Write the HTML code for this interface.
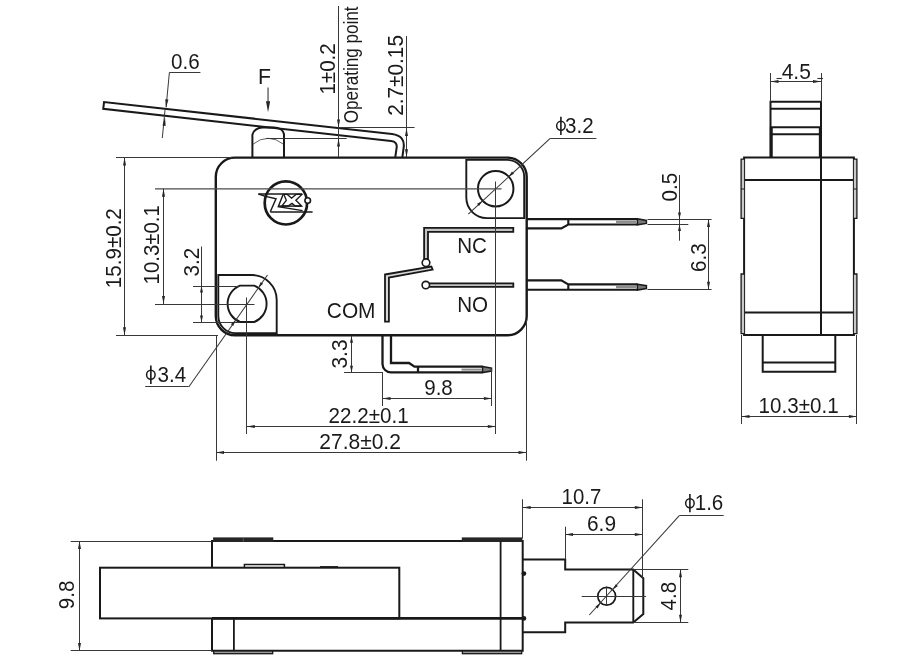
<!DOCTYPE html>
<html><head><meta charset="utf-8"><title>Micro switch dimensions</title>
<style>
html,body{margin:0;padding:0;background:#fff;}
body{width:901px;height:672px;overflow:hidden;}
svg{display:block;}
text{font-family:"Liberation Sans",sans-serif;fill:#1a1a1a;}
svg{will-change:transform;filter:grayscale(1);}
</style></head><body>
<svg width="901" height="672" viewBox="0 0 901 672">
<rect width="901" height="672" fill="#fff"/>
<path d="M235,157.6 H507.5 A19.2,19.2 0 0 1 526.7,176.8 V316 A19.2,19.2 0 0 1 507.5,335.3 H235 A19.2,19.2 0 0 1 215.8,316 V176.8 A19.2,19.2 0 0 1 235,157.6 Z" stroke="#1c1917" stroke-width="2.4" fill="none" />
<path d="M466.3,159.9 V197.6 A20.5,20.5 0 0 0 486.8,218.1 H524.2 V177 A17,17 0 0 0 507.2,159.9 Z" stroke="#1c1917" stroke-width="1.9" fill="none" />
<circle cx="495.7" cy="188.7" r="17.75" stroke="#1c1917" stroke-width="2.0" fill="none"/>
<path d="M218.3,275 H251.7 A25,25 0 0 1 276.7,300 V333.1 H235.5 A17.2,17.2 0 0 1 218.3,316 Z" stroke="#1c1917" stroke-width="1.9" fill="none" />
<path d="M240.10,285.6 H254.10 A19.5,19.5 0 0 1 254.10,322.0 H240.10 A19.5,19.5 0 0 1 240.10,285.6 Z" stroke="#1c1917" stroke-width="1.9" fill="none" />
<path d="M252.4,157.7 V134.6 C253.2,130.6 257.5,127.7 262.5,127.6 H274 C279,127.7 283.2,130.2 284,134.2 V157.7" stroke="#1c1917" stroke-width="2.0" fill="none" />
<path d="M253,144.2 Q260,138.3 268.3,138.3 Q276,138.3 283.4,144.2" stroke="#383838" stroke-width="0.8" fill="none" />
<path d="M395.2,157.7 L396.6,148 Q397.6,141.8 391,141.0 L103.25,108.8 L104.05,102.1 L392,133.9 Q405.5,135.6 403.6,148 L402.3,157.7" stroke="#1c1917" stroke-width="2.0" fill="none" stroke-linejoin="miter"/>
<ellipse cx="285.9" cy="202.9" rx="21.2" ry="21.6" stroke="#1c1917" stroke-width="2.7" fill="none"/>
<g stroke="#1c1917" stroke-width="1.45" fill="none" stroke-linejoin="miter">
<path d="M258.3,193.9 H301.9" stroke-width="1.5"/>
<path d="M270.3,211.9 H312.6" stroke-width="1.5"/>
<path d="M258.5,194 L264.7,196.1 L276,198.7 L270.3,211.8" />
<path d="M283.3,193.9 L278.3,206.6 L302.6,210.6" />
<path d="M278.3,206.1 H301.6" />
<path d="M283.9,194.4 L287.3,194.4 L291.6,198.2 L295.9,194.4 L301.9,194.4 L295.9,200.3 L301.6,206 L295.3,206 L292,203.4 L288,206 L281.8,206 L286.3,200.3 Z" stroke-width="1.35"/>
</g>
<circle cx="307.7" cy="200.5" r="2.8" stroke="#1c1917" stroke-width="1.6" fill="#fff"/>
<path d="M424.1,227.8 H513.3 V231.8 H428.0 V259.5 H424.1 Z" stroke="#1c1917" stroke-width="1.8" fill="#c4c4c4" />
<path d="M429,283.3 H513.3 V286.8 H429 Z" stroke="#1c1917" stroke-width="1.8" fill="#c4c4c4" />
<path d="M385.0,274.5 L431.4,266.6 L432.6,269.6 L388.9,277.5 V321.6 H385.0 Z" stroke="#1c1917" stroke-width="1.8" fill="#d8d8d8" />
<circle cx="426" cy="262.7" r="3.8" stroke="#1c1917" stroke-width="1.6" fill="#fff"/>
<circle cx="425.8" cy="285.05" r="3.7" stroke="#1c1917" stroke-width="1.6" fill="#fff"/>
<text transform="translate(457.2 253.2) scale(1 1.06)" font-size="20.6" text-anchor="start" >NC</text>
<text transform="translate(457.2 312.2) scale(1 1.06)" font-size="20.6" text-anchor="start" >NO</text>
<text transform="translate(326.8 318.2) scale(1 1.06)" font-size="20.9" text-anchor="start" >COM</text>
<path d="M526.3,219.1 H637.7 M526.3,228.4 H561.3 L568.3,224.5 H637.7 M568.3,219.1 V224.5" stroke="#1c1917" stroke-width="2.1" fill="none" />
<path d="M637.4,218.8 L646.4,220.4 V223.4 L637.4,224.8 Z" stroke="#1c1917" stroke-width="1.5" fill="#777" />
<line x1="616" y1="221.8" x2="636.5" y2="221.8" stroke="#8c8c8c" stroke-width="2.3"/>
<path d="M526.3,289.7 H637.7 M526.3,280.4 H561.3 L568.3,284.4 H637.7 M568.3,284.4 V289.7" stroke="#1c1917" stroke-width="2.1" fill="none" />
<path d="M637.4,284.2 L646.4,285.7 V288.6 L637.4,290 Z" stroke="#1c1917" stroke-width="1.5" fill="#777" />
<line x1="616" y1="287.1" x2="636.5" y2="287.1" stroke="#8c8c8c" stroke-width="2.3"/>
<path d="M382.5,335.2 V364 A8.5,8.5 0 0 0 391,372.4 H482.5 M391,335.2 V363 H409 L414.5,366.7 H482.5 M418,366.7 V372.4" stroke="#1c1917" stroke-width="2.3" fill="none" />
<path d="M482.5,366.5 L491.5,368.1 V371.1 L482.5,372.6 Z" stroke="#1c1917" stroke-width="1.5" fill="#777" />
<line x1="461.5" y1="369.6" x2="481.6" y2="369.6" stroke="#8c8c8c" stroke-width="2.0"/>
<text transform="translate(171.1 68.9) scale(1 1.06)" font-size="20.6" text-anchor="start" >0.6</text>
<line x1="169.4" y1="72.5" x2="200.4" y2="72.5" stroke="#383838" stroke-width="1.0"/>
<line x1="169.4" y1="72.4" x2="166.1" y2="107" stroke="#383838" stroke-width="1.0"/>
<polygon points="166.00,108.00 165.22,99.29 168.41,99.59" fill="#262626"/>
<line x1="162.3" y1="138" x2="165.0" y2="110" stroke="#383838" stroke-width="1.0"/>
<polygon points="165.00,117.20 165.65,125.92 162.47,125.57" fill="#262626"/>
<text transform="translate(258.1 83.7) scale(1 1.06)" font-size="21.3" text-anchor="start" >F</text>
<line x1="268.05" y1="87.4" x2="268.05" y2="103" stroke="#555" stroke-width="1.3"/>
<polygon points="268.05,112.20 265.95,101.20 270.15,101.20" fill="#262626"/>
<line x1="338.5" y1="6" x2="338.5" y2="157" stroke="#383838" stroke-width="1.0"/>
<polygon points="338.50,127.40 337.00,119.40 340.00,119.40" fill="#262626"/>
<polygon points="338.50,138.60 340.00,146.60 337.00,146.60" fill="#262626"/>
<line x1="266" y1="138.5" x2="346.7" y2="138.5" stroke="#383838" stroke-width="1.0"/>
<line x1="338.6" y1="127.5" x2="414.6" y2="127.5" stroke="#383838" stroke-width="1.0"/>
<text transform="translate(335.0 94.6) rotate(-90) scale(1 1.06)" font-size="20.6" text-anchor="start" >1±0.2</text>
<text transform="translate(358.2 123.2) rotate(-90)" font-size="20.4" text-anchor="start" textLength="116.8" lengthAdjust="spacingAndGlyphs">Operating point</text>
<line x1="406.5" y1="36" x2="406.5" y2="157" stroke="#383838" stroke-width="1.0"/>
<polygon points="406.50,128.00 408.00,136.00 405.00,136.00" fill="#262626"/>
<polygon points="406.50,157.20 405.00,149.20 408.00,149.20" fill="#262626"/>
<text transform="translate(402.6 115.8) rotate(-90) scale(1 1.06)" font-size="20.8" text-anchor="start" >2.7±0.15</text>
<ellipse cx="560.9" cy="125.85" rx="4.25" ry="4.5" stroke="#1a1a1a" stroke-width="1.5" fill="none"/>
<line x1="560.9" y1="116.64999999999999" x2="560.9" y2="134.95" stroke="#1a1a1a" stroke-width="1.6"/>
<text transform="translate(565.0 133.3) scale(1 1.06)" font-size="20.6" text-anchor="start" >3.2</text>
<line x1="550.2" y1="138.5" x2="596.4" y2="138.5" stroke="#383838" stroke-width="1.0"/>
<line x1="550.2" y1="138.4" x2="468.3" y2="214.2" stroke="#383838" stroke-width="1.05"/>
<polygon points="508.70,176.50 511.98,171.50 513.95,173.63" fill="#262626"/>
<polygon points="482.30,200.90 479.02,205.90 477.05,203.77" fill="#262626"/>
<line x1="155" y1="188.85" x2="501.5" y2="188.85" stroke="#4a4a4a" stroke-width="1.1"/>
<line x1="495.5" y1="181.5" x2="495.5" y2="434" stroke="#383838" stroke-width="1.0"/>
<line x1="155" y1="304.5" x2="254.5" y2="304.5" stroke="#383838" stroke-width="1.0"/>
<line x1="246.5" y1="297.5" x2="246.5" y2="434" stroke="#383838" stroke-width="1.0"/>
<line x1="116" y1="157.5" x2="232" y2="157.5" stroke="#383838" stroke-width="1.0"/>
<line x1="116" y1="335.5" x2="218" y2="335.5" stroke="#383838" stroke-width="1.0"/>
<line x1="124.5" y1="157.5" x2="124.5" y2="335.3" stroke="#383838" stroke-width="1.0"/>
<polygon points="124.50,157.50 126.00,165.50 123.00,165.50" fill="#262626"/>
<polygon points="124.50,335.30 123.00,327.30 126.00,327.30" fill="#262626"/>
<text transform="translate(121.3 288.2) rotate(-90) scale(1 1.06)" font-size="20.6" text-anchor="start" >15.9±0.2</text>
<line x1="163.5" y1="188.7" x2="163.5" y2="304" stroke="#383838" stroke-width="1.0"/>
<polygon points="163.50,188.70 165.00,196.70 162.00,196.70" fill="#262626"/>
<polygon points="163.50,304.00 162.00,296.00 165.00,296.00" fill="#262626"/>
<text transform="translate(159.3 284.4) rotate(-90) scale(1 1.06)" font-size="20.4" text-anchor="start" >10.3±0.1</text>
<line x1="193" y1="286.5" x2="240" y2="286.5" stroke="#383838" stroke-width="1.0"/>
<line x1="193" y1="322.5" x2="240" y2="322.5" stroke="#383838" stroke-width="1.0"/>
<line x1="201.5" y1="246.5" x2="201.5" y2="322" stroke="#383838" stroke-width="1.0"/>
<polygon points="201.50,286.00 203.00,292.50 200.00,292.50" fill="#262626"/>
<polygon points="201.50,322.00 200.00,315.50 203.00,315.50" fill="#262626"/>
<text transform="translate(198.5 276.4) rotate(-90) scale(1 1.06)" font-size="20.6" text-anchor="start" >3.2</text>
<ellipse cx="150.85" cy="374.8" rx="4.25" ry="4.5" stroke="#1a1a1a" stroke-width="1.5" fill="none"/>
<line x1="150.85" y1="365.6" x2="150.85" y2="383.90000000000003" stroke="#1a1a1a" stroke-width="1.6"/>
<text transform="translate(157.5 381.6) scale(1 1.06)" font-size="20.6" text-anchor="start" >3.4</text>
<line x1="145.2" y1="386.5" x2="188.7" y2="386.5" stroke="#383838" stroke-width="1.0"/>
<line x1="188.7" y1="387.0" x2="267.5" y2="275" stroke="#383838" stroke-width="1.05"/>
<polygon points="258.30,288.00 260.69,282.10 263.06,283.77" fill="#262626"/>
<polygon points="235.60,320.00 233.21,325.90 230.84,324.23" fill="#262626"/>
<line x1="344" y1="372.5" x2="383" y2="372.5" stroke="#383838" stroke-width="1.0"/>
<line x1="351.5" y1="336" x2="351.5" y2="372.4" stroke="#383838" stroke-width="1.0"/>
<polygon points="351.50,336.30 353.00,342.80 350.00,342.80" fill="#262626"/>
<polygon points="351.50,372.20 350.00,365.70 353.00,365.70" fill="#262626"/>
<text transform="translate(346.6 368.6) rotate(-90) scale(1 1.06)" font-size="21.0" text-anchor="start" >3.3</text>
<line x1="382.5" y1="372" x2="382.5" y2="406" stroke="#383838" stroke-width="1.0"/>
<line x1="491.5" y1="368.5" x2="491.5" y2="406" stroke="#383838" stroke-width="1.0"/>
<line x1="382.5" y1="398.5" x2="491.9" y2="398.5" stroke="#383838" stroke-width="1.0"/>
<polygon points="382.50,398.50 390.50,397.00 390.50,400.00" fill="#262626"/>
<polygon points="491.90,398.50 483.90,400.00 483.90,397.00" fill="#262626"/>
<text transform="translate(424.2 394.6) scale(1 1.06)" font-size="20.6" text-anchor="start" >9.8</text>
<line x1="246.8" y1="426.5" x2="495.8" y2="426.5" stroke="#383838" stroke-width="1.0"/>
<polygon points="246.80,426.50 254.80,425.00 254.80,428.00" fill="#262626"/>
<polygon points="495.80,426.50 487.80,428.00 487.80,425.00" fill="#262626"/>
<text transform="translate(328.6 422.9) scale(1 1.06)" font-size="20.6" text-anchor="start" >22.2±0.1</text>
<line x1="216.5" y1="335" x2="216.5" y2="460.7" stroke="#383838" stroke-width="1.0"/>
<line x1="526.5" y1="320" x2="526.5" y2="460.7" stroke="#383838" stroke-width="1.0"/>
<line x1="216" y1="452.5" x2="526.5" y2="452.5" stroke="#383838" stroke-width="1.0"/>
<polygon points="216.00,452.50 224.00,451.00 224.00,454.00" fill="#262626"/>
<polygon points="526.50,452.50 518.50,454.00 518.50,451.00" fill="#262626"/>
<text transform="translate(319.3 448.8) scale(1 1.06)" font-size="21.0" text-anchor="start" >27.8±0.2</text>
<line x1="647.5" y1="224.5" x2="688.3" y2="224.5" stroke="#383838" stroke-width="1.0"/>
<line x1="679.5" y1="175" x2="679.5" y2="240.7" stroke="#383838" stroke-width="1.0"/>
<polygon points="679.50,219.10 678.00,212.60 681.00,212.60" fill="#262626"/>
<polygon points="679.50,224.50 681.00,231.00 678.00,231.00" fill="#262626"/>
<text transform="translate(677.2 201.5) rotate(-90) scale(1 1.06)" font-size="20.6" text-anchor="start" >0.5</text>
<line x1="647.5" y1="219.5" x2="711.6" y2="219.5" stroke="#383838" stroke-width="1.0"/>
<line x1="647.5" y1="289.5" x2="711.6" y2="289.5" stroke="#383838" stroke-width="1.0"/>
<line x1="708.5" y1="219.1" x2="708.5" y2="289.7" stroke="#383838" stroke-width="1.0"/>
<polygon points="708.50,219.10 710.00,227.10 707.00,227.10" fill="#262626"/>
<polygon points="708.50,289.70 707.00,281.70 710.00,281.70" fill="#262626"/>
<text transform="translate(705.5 272) rotate(-90) scale(1 1.06)" font-size="20.6" text-anchor="start" >6.3</text>
<path d="M744.1,157.5 H853.9 V335.1 H744.1 Z" stroke="#1c1917" stroke-width="2.0" fill="none" />
<line x1="744.1" y1="179.9" x2="853.9" y2="179.9" stroke="#1c1917" stroke-width="2.0"/>
<line x1="744.1" y1="312.5" x2="853.9" y2="312.5" stroke="#1c1917" stroke-width="2.0"/>
<line x1="821.0" y1="101.8" x2="821.0" y2="335.1" stroke="#1c1917" stroke-width="2.0"/>
<path d="M770.5,157.4 V101.8 H821.0" stroke="#1c1917" stroke-width="2.0" fill="none" />
<line x1="770.5" y1="108.8" x2="821" y2="108.8" stroke="#1c1917" stroke-width="2.0"/>
<line x1="770.5" y1="127.2" x2="821" y2="127.2" stroke="#1c1917" stroke-width="2.0"/>
<line x1="770.5" y1="134.2" x2="821" y2="134.2" stroke="#1c1917" stroke-width="2.0"/>
<line x1="771.3" y1="127.2" x2="771.3" y2="157.4" stroke="#1c1917" stroke-width="2.9"/>
<line x1="820.3" y1="127.2" x2="820.3" y2="157.4" stroke="#1c1917" stroke-width="2.9"/>
<path d="M744.1,159.2 H741.1 V218.4 H744.1" stroke="#1c1917" stroke-width="1.3" fill="#c8c8c8" />
<path d="M853.9,159.2 H856.9 V218.4 H853.9" stroke="#1c1917" stroke-width="1.3" fill="#c8c8c8" />
<path d="M744.1,274 H741.1 V333.6 H744.1" stroke="#1c1917" stroke-width="1.3" fill="#c8c8c8" />
<path d="M853.9,274 H856.9 V333.6 H853.9" stroke="#1c1917" stroke-width="1.3" fill="#c8c8c8" />
<line x1="741.1" y1="189" x2="744.1" y2="189" stroke="#1c1917" stroke-width="1"/>
<line x1="853.9" y1="189" x2="856.9" y2="189" stroke="#1c1917" stroke-width="1"/>
<path d="M762.7,335.1 V371.8 H835.3 V335.1" stroke="#1c1917" stroke-width="2.0" fill="none" />
<line x1="762.7" y1="362.5" x2="835.3" y2="362.5" stroke="#1c1917" stroke-width="2.0"/>
<line x1="770.5" y1="73" x2="770.5" y2="102" stroke="#383838" stroke-width="1.0"/>
<line x1="821.5" y1="73" x2="821.5" y2="102" stroke="#383838" stroke-width="1.0"/>
<line x1="770.5" y1="81.5" x2="821.0" y2="81.5" stroke="#383838" stroke-width="1.0"/>
<polygon points="770.50,81.50 778.50,80.00 778.50,83.00" fill="#262626"/>
<polygon points="821.00,81.50 813.00,83.00 813.00,80.00" fill="#262626"/>
<text transform="translate(781.7 78.8) scale(1 1.06)" font-size="21.0" text-anchor="start" >4.5</text>
<line x1="776.5" y1="78.5" x2="781.8" y2="78.5" stroke="#333" stroke-width="1.1"/>
<line x1="817.4" y1="78.5" x2="823" y2="78.5" stroke="#333" stroke-width="1.1"/>
<line x1="741.5" y1="335" x2="741.5" y2="424" stroke="#383838" stroke-width="1.0"/>
<line x1="856.5" y1="335" x2="856.5" y2="424" stroke="#383838" stroke-width="1.0"/>
<line x1="741.5" y1="416.5" x2="856.9" y2="416.5" stroke="#383838" stroke-width="1.0"/>
<polygon points="741.50,416.50 749.50,415.00 749.50,418.00" fill="#262626"/>
<polygon points="856.90,416.50 848.90,418.00 848.90,415.00" fill="#262626"/>
<text transform="translate(758.6 412.8) scale(1 1.06)" font-size="20.6" text-anchor="start" >10.3±0.1</text>
<path d="M212,541.1 H522.7 V650.7 H212 Z" stroke="#1c1917" stroke-width="2.0" fill="none" />
<rect x="213.1" y="537.4" width="60.20000000000002" height="4.6" fill="#2a2522"/>
<rect x="213.7" y="651" width="59.000000000000014" height="2.7" fill="#9a9a9a" stroke="#1c1917" stroke-width="1.3"/>
<rect x="461.8" y="537.4" width="60.49999999999994" height="4.6" fill="#2a2522"/>
<rect x="462.40000000000003" y="651" width="59.29999999999994" height="2.7" fill="#9a9a9a" stroke="#1c1917" stroke-width="1.3"/>
<line x1="243.3" y1="537.6" x2="243.3" y2="541.8" stroke="#555" stroke-width="1"/>
<line x1="500.6" y1="541" x2="500.6" y2="650.7" stroke="#1c1917" stroke-width="1.8"/>
<rect x="100" y="567.7" width="299.3" height="50.7" fill="#fff" stroke="#1c1917" stroke-width="2.0"/>
<line x1="212" y1="618.4" x2="522.7" y2="618.4" stroke="#1c1917" stroke-width="2.7"/>
<line x1="233.9" y1="618.4" x2="233.9" y2="650.7" stroke="#1c1917" stroke-width="1.8"/>
<path d="M244.4,567.7 V564.6 H284.4 V567.7" stroke="#1c1917" stroke-width="1.5" fill="none" />
<line x1="320" y1="566.6" x2="338" y2="566.6" stroke="#1c1917" stroke-width="1.0"/>
<path d="M522.7,559.4 H565.2 V569.5 H633.3 L643.3,578.3 V614 L633.3,622.6 H565.2 V632.3 H522.7" stroke="#1c1917" stroke-width="2.0" fill="none" />
<line x1="633.3" y1="569.3" x2="633.3" y2="622.7" stroke="#1c1917" stroke-width="1.9"/>
<circle cx="606.7" cy="596.3" r="8.9" stroke="#1c1917" stroke-width="1.7" fill="none"/>
<circle cx="523.9" cy="573.6" r="2.4" fill="#1c1917"/><circle cx="523.9" cy="618.4" r="2.4" fill="#1c1917"/>
<line x1="581.7" y1="596.5" x2="646" y2="596.5" stroke="#383838" stroke-width="1.0"/>
<line x1="606.5" y1="586.7" x2="606.5" y2="606" stroke="#383838" stroke-width="1.0"/>
<ellipse cx="689.9" cy="503.2" rx="4.25" ry="4.5" stroke="#1a1a1a" stroke-width="1.5" fill="none"/>
<line x1="689.9" y1="494.0" x2="689.9" y2="512.3" stroke="#1a1a1a" stroke-width="1.6"/>
<text transform="translate(694.7 509.7) scale(1 1.06)" font-size="20.6" text-anchor="start" >1.6</text>
<line x1="679.3" y1="515.5" x2="723.7" y2="515.5" stroke="#383838" stroke-width="1.0"/>
<line x1="679.3" y1="515.6" x2="589.3" y2="615" stroke="#383838" stroke-width="1.05"/>
<polygon points="612.70,589.70 615.83,584.17 617.91,586.05" fill="#262626"/>
<polygon points="600.70,602.90 597.57,608.43 595.49,606.55" fill="#262626"/>
<line x1="522.5" y1="499.3" x2="522.5" y2="538.5" stroke="#383838" stroke-width="1.0"/>
<line x1="642.5" y1="499.3" x2="642.5" y2="578.3" stroke="#383838" stroke-width="1.0"/>
<line x1="522.7" y1="507.5" x2="642.8" y2="507.5" stroke="#383838" stroke-width="1.0"/>
<polygon points="522.70,507.50 530.70,506.00 530.70,509.00" fill="#262626"/>
<polygon points="642.80,507.50 634.80,509.00 634.80,506.00" fill="#262626"/>
<text transform="translate(561.6 503.6) scale(1 1.06)" font-size="20.4" text-anchor="start" >10.7</text>
<line x1="565.5" y1="526.7" x2="565.5" y2="559.4" stroke="#383838" stroke-width="1.0"/>
<line x1="565" y1="534.5" x2="642.8" y2="534.5" stroke="#383838" stroke-width="1.0"/>
<polygon points="565.00,534.50 573.00,533.00 573.00,536.00" fill="#262626"/>
<polygon points="642.80,534.50 634.80,536.00 634.80,533.00" fill="#262626"/>
<text transform="translate(587.0 530.6) scale(1 1.06)" font-size="20.9" text-anchor="start" >6.9</text>
<line x1="633.3" y1="569.5" x2="688.3" y2="569.5" stroke="#383838" stroke-width="1.0"/>
<line x1="633.3" y1="622.5" x2="688.3" y2="622.5" stroke="#383838" stroke-width="1.0"/>
<line x1="680.5" y1="569.3" x2="680.5" y2="622.7" stroke="#383838" stroke-width="1.0"/>
<polygon points="680.50,569.30 682.00,577.30 679.00,577.30" fill="#262626"/>
<polygon points="680.50,622.70 679.00,614.70 682.00,614.70" fill="#262626"/>
<text transform="translate(675.9 610.5) rotate(-90) scale(1 1.06)" font-size="20.6" text-anchor="start" >4.8</text>
<line x1="70.7" y1="541.5" x2="212" y2="541.5" stroke="#383838" stroke-width="1.0"/>
<line x1="70.7" y1="650.5" x2="212" y2="650.5" stroke="#383838" stroke-width="1.0"/>
<line x1="79.5" y1="541.1" x2="79.5" y2="650.9" stroke="#383838" stroke-width="1.0"/>
<polygon points="79.50,541.10 81.00,549.10 78.00,549.10" fill="#262626"/>
<polygon points="79.50,650.90 78.00,642.90 81.00,642.90" fill="#262626"/>
<text transform="translate(74.2 609.2) rotate(-90) scale(1 1.06)" font-size="20.6" text-anchor="start" >9.8</text>
</svg>
</body></html>
